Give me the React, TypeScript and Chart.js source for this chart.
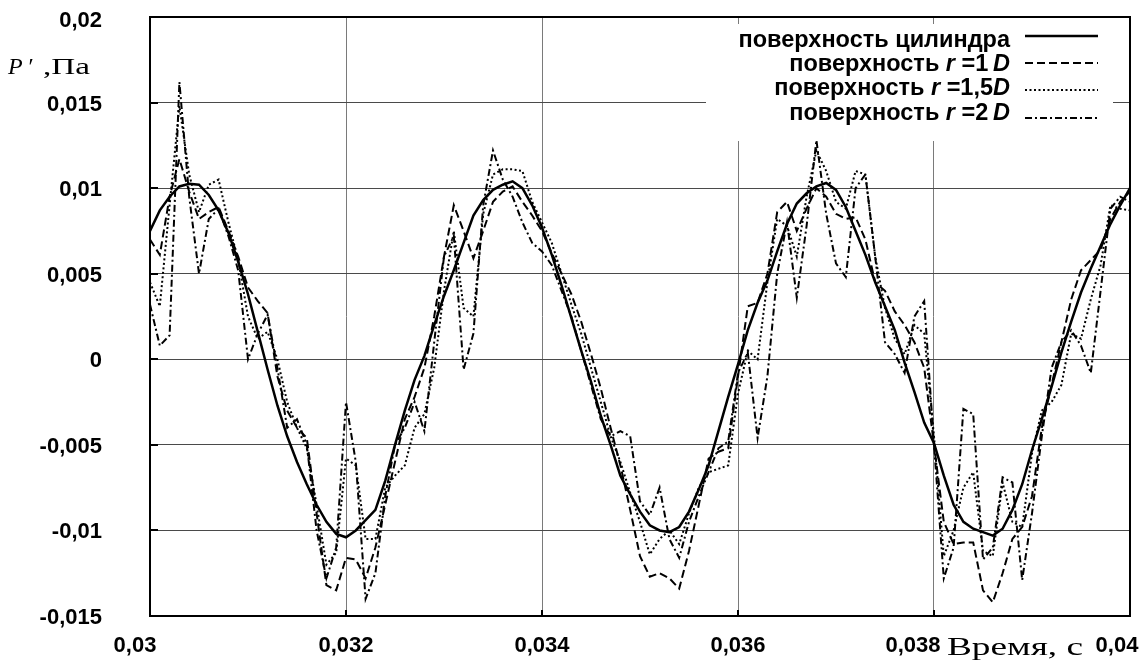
import React, { useEffect, useRef } from "react";
import { Chart, registerables } from "chart.js";

Chart.register(...registerables);

// time axis, s (sample step 0.0001 s)
const TIME: number[] = Array.from({ length: 101 }, (_, i) => +(0.03 + i * 0.0001).toFixed(4));

// поверхность цилиндра
const CYLINDER: number[] = [
  0.0075, 0.0087, 0.0095, 0.0101, 0.01025, 0.0102, 0.0096, 0.0087, 0.0074, 0.0057,
  0.0038, 0.0016, -0.0006, -0.0027, -0.0045, -0.006, -0.0073, -0.0085, -0.0095, -0.0102,
  -0.0104, -0.01, -0.0094, -0.0088, -0.0071, -0.005, -0.003, -0.0012, 0.0002, 0.002,
  0.0037, 0.0052, 0.0068, 0.0084, 0.0093, 0.0099, 0.0102, 0.0104, 0.01, 0.009,
  0.0077, 0.0061, 0.0043, 0.0024, 0.0005, -0.0013, -0.0033, -0.005, -0.0068, -0.0079,
  -0.0089, -0.0097, -0.01, -0.0101, -0.0098, -0.0089, -0.0076, -0.0062, -0.0042, -0.0022,
  -0.0003, 0.0017, 0.0033, 0.0046, 0.0063, 0.0079, 0.0091, 0.0097, 0.0101, 0.0103,
  0.0099, 0.0089, 0.0075, 0.0061, 0.0045, 0.0031, 0.0017, -0.0002, -0.0019, -0.0037,
  -0.0049, -0.0068, -0.0085, -0.0095, -0.0099, -0.0101, -0.0103, -0.0099, -0.0088, -0.0073,
  -0.0053, -0.0035, -0.0016, 0.0004, 0.0022, 0.0039, 0.0053, 0.0066, 0.0079, 0.009,
  0.01,
];

// поверхность r = 1D
const R1D: number[] = [
  0.007, 0.0061, 0.0095, 0.0117, 0.0098, 0.0082, 0.0086, 0.0089, 0.0075, 0.006,
  0.0042, 0.0034, 0.0027, -0.001, -0.003, -0.004, -0.0046, -0.009, -0.0132, -0.0135,
  -0.0116, -0.0117, -0.0128, -0.011, -0.0085, -0.006, -0.0035, -0.0022, -0.0005, 0.0025,
  0.006, 0.009, 0.0075, 0.0059, 0.0075, 0.0092, 0.0098, 0.0101, 0.0092, 0.0084,
  0.0075, 0.0062, 0.005, 0.0038, 0.0022, 0.0003, -0.0017, -0.004, -0.0062, -0.0088,
  -0.0115, -0.0127, -0.0125, -0.0128, -0.0134, -0.0112, -0.0085, -0.0058, -0.0054, -0.0052,
  -0.001, 0.0031, 0.0033, 0.005, 0.0086, 0.0092, 0.0075, 0.0088, 0.01, 0.0095,
  0.0085, 0.0082, 0.0083, 0.007, 0.0045, 0.004, 0.0028, 0.002, 0.001, -0.0005,
  -0.005, -0.0095, -0.0108, -0.0107, -0.0107, -0.0135, -0.0142, -0.0125, -0.0105, -0.0098,
  -0.008, -0.004, -0.0015, 0.001, 0.0035, 0.0052, 0.0058, 0.0064, 0.0082, 0.0092,
  0.0098,
];

// поверхность r = 1,5D
const R15D: number[] = [
  0.0045, 0.0031, 0.009, 0.0148, 0.0108, 0.0086, 0.0102, 0.0105, 0.008, 0.0058,
  0.0025, 0.0012, 0.0016, 0.0, -0.0025, -0.004, -0.0052, -0.0085, -0.012, -0.0113,
  -0.0058, -0.0062, -0.0105, -0.0105, -0.0075, -0.0068, -0.0062, -0.004, -0.0032, -0.0005,
  0.004, 0.0075, 0.003, 0.0025, 0.0085, 0.0108, 0.0111, 0.0111, 0.011, 0.0092,
  0.008, 0.0068, 0.005, 0.0032, 0.0015, -0.0005, -0.0025, -0.0045, -0.006, -0.0078,
  -0.0095, -0.0114, -0.0105, -0.01, -0.0108, -0.009, -0.0075, -0.0066, -0.0064, -0.0062,
  -0.002, 0.0005, 0.0, 0.0045, 0.0082, 0.0078, 0.006, 0.0095, 0.0122, 0.011,
  0.0092, 0.0088, 0.011, 0.0108, 0.006, 0.003, 0.0012, 0.0003, 0.002, 0.0015,
  -0.0045, -0.0115, -0.01, -0.0075, -0.0066, -0.0112, -0.0115, -0.0072, -0.0095, -0.0098,
  -0.0055, -0.003, -0.0025, -0.0015, 0.0015, 0.0012, 0.0035, 0.0055, 0.009, 0.0088,
  0.0087,
];

// поверхность r = 2D
const R2D: number[] = [
  0.0032, 0.0008, 0.0014, 0.0162, 0.0095, 0.005, 0.0082, 0.0088, 0.0072, 0.0052,
  0.0, 0.0015, 0.0026, -0.0005, -0.004, -0.0035, -0.005, -0.01, -0.0128, -0.011,
  -0.0025, -0.006, -0.014, -0.0125, -0.008, -0.005, -0.004, -0.0025, -0.0042, 0.001,
  0.006, 0.0072, -0.0006, 0.0015, 0.009, 0.0122, 0.0105, 0.0095, 0.008, 0.0068,
  0.0063, 0.0055, 0.004, 0.0025, 0.0005, -0.0015, -0.0035, -0.0045, -0.0042, -0.0045,
  -0.0083, -0.0091, -0.0075, -0.0105, -0.0116, -0.0095, -0.008, -0.0066, -0.0052, -0.0048,
  -0.0008, 0.0004, -0.0046, -0.001, 0.005, 0.008, 0.0036, 0.0078, 0.0128, 0.0085,
  0.0056, 0.0048, 0.01, 0.0108, 0.006, 0.001, 0.0003, -0.0008, 0.0025, 0.0034,
  -0.005, -0.0128, -0.011, -0.0029, -0.0032, -0.0117, -0.011, -0.0069, -0.0072, -0.0129,
  -0.009, -0.0045, -0.0005, 0.001, 0.0017, 0.0008, -0.0008, 0.004, 0.0088, 0.0095,
  0.0092,
];

const Y_TICKS = [-0.015, -0.01, -0.005, 0, 0.005, 0.01, 0.015, 0.02];
const Y_TICK_LABELS = ["-0,015", "-0,01", "-0,005", "0", "0,005", "0,01", "0,015", "0,02"];
const X_TICKS = [0.03, 0.032, 0.034, 0.036, 0.038, 0.04];
const X_TICK_LABELS = ["0,03", "0,032", "0,034", "0,036", "0,038", "0,04"];
const X_LABEL_SHIFT = [-15, 0, 0, 0, -21, -13];

const SERIES_NAMES = [
  "поверхность цилиндра",
  "поверхность r =1D",
  "поверхность r =1,5D",
  "поверхность r =2D",
];
// legend text split into upright / italic parts
const LEGEND_PARTS: { t: string; i?: boolean }[][] = [
  [{ t: "поверхность цилиндра" }],
  [{ t: "поверхность " }, { t: "r", i: true }, { t: " =1\u2009" }, { t: "D", i: true }],
  [{ t: "поверхность " }, { t: "r", i: true }, { t: " =1,5" }, { t: "D", i: true }],
  [{ t: "поверхность " }, { t: "r", i: true }, { t: " =2\u2009" }, { t: "D", i: true }],
];

const DASHES: number[][] = [[], [8, 4], [2, 2.5], [7, 3, 2, 3]];
const WIDTHS = [2.5, 2, 2, 2];
const SERIES = [CYLINDER, R1D, R15D, R2D];

const SANS = "'Liberation Sans', Arial, sans-serif";
const SERIF = "'Liberation Serif', 'Times New Roman', serif";

function fillStretched(ctx: CanvasRenderingContext2D, text: string, x: number, y: number, width: number) {
  const w = ctx.measureText(text).width;
  ctx.save();
  ctx.translate(x, y);
  ctx.scale(width / w, 1);
  ctx.fillText(text, 0, 0);
  ctx.restore();
}

const decorPlugin = {
  id: "decor",
  afterDatasetsDraw(chart: any) {
    const { ctx, chartArea: a, scales } = chart;
    const xs = scales.x;
    const ys = scales.y;
    ctx.save();

    // legend box
    ctx.fillStyle = "#ffffff";
    ctx.fillRect(706, 24, 407, 117);
    const rowBase = [46.5, 70.5, 95, 119.5];
    const lineY = [36, 63, 90, 118];
    const LF = "23.5px ";
    LEGEND_PARTS.forEach((parts, r) => {
      let total = 0;
      const widths = parts.map((p) => {
        ctx.font = (p.i ? "italic bold " : "bold ") + LF + SANS;
        const w = ctx.measureText(p.t).width;
        total += w;
        return w;
      });
      let x = 1010 - total;
      ctx.fillStyle = "#000";
      ctx.textAlign = "left";
      ctx.textBaseline = "alphabetic";
      parts.forEach((p, k) => {
        ctx.font = (p.i ? "italic bold " : "bold ") + LF + SANS;
        ctx.fillText(p.t, x, rowBase[r]);
        x += widths[k];
      });
      ctx.beginPath();
      ctx.setLineDash(DASHES[r]);
      ctx.lineWidth = WIDTHS[r];
      ctx.strokeStyle = "#000";
      ctx.moveTo(1025, lineY[r]);
      ctx.lineTo(1098, lineY[r]);
      ctx.stroke();
    });
    ctx.setLineDash([]);

    // frame
    ctx.strokeStyle = "#000";
    ctx.lineWidth = 2;
    ctx.strokeRect(a.left, a.top, a.right - a.left, a.bottom - a.top);

    // inward tick marks
    Y_TICKS.forEach((v) => {
      const py = Math.round(ys.getPixelForValue(v));
      ctx.beginPath();
      ctx.moveTo(a.left, py);
      ctx.lineTo(a.left + 8, py);
      ctx.stroke();
    });
    X_TICKS.forEach((v) => {
      const px = Math.round(xs.getPixelForValue(v));
      ctx.beginPath();
      ctx.moveTo(px, a.bottom);
      ctx.lineTo(px, a.bottom - 6);
      ctx.stroke();
    });

    // tick labels
    ctx.fillStyle = "#000";
    ctx.font = "bold 22px " + SANS;
    ctx.textBaseline = "alphabetic";
    ctx.textAlign = "right";
    Y_TICKS.forEach((v, i) => {
      const py = ys.getPixelForValue(v);
      ctx.fillText(Y_TICK_LABELS[i], a.left - 48, Math.max(py + 8, 27));
    });
    ctx.textAlign = "center";
    X_TICKS.forEach((v, i) => {
      const px = xs.getPixelForValue(v) + X_LABEL_SHIFT[i];
      ctx.fillText(X_TICK_LABELS[i], px, a.bottom + 36);
    });

    // axis titles
    ctx.textAlign = "left";
    ctx.font = "italic 24px " + SERIF;
    ctx.fillText("P", 8, 74);
    ctx.fillText("\u2032", 27, 74);
    ctx.font = "24px " + SERIF;
    fillStretched(ctx, ",Па", 43, 74, 47);
    ctx.font = "26px " + SERIF;
    fillStretched(ctx, "Время, с", 947, 655, 136);

    ctx.restore();
  },
};

export default function App() {
  const canvasRef = useRef<HTMLCanvasElement | null>(null);

  useEffect(() => {
    const canvas = canvasRef.current;
    if (!canvas) return;
    const chart = new Chart(canvas, {
      type: "line",
      data: {
        datasets: SERIES.map((s, k) => ({
          label: SERIES_NAMES[k],
          data: TIME.map((t, i) => ({ x: t, y: s[i] })),
          borderColor: "#000",
          backgroundColor: "#000",
          borderWidth: WIDTHS[k],
          borderDash: DASHES[k],
          pointRadius: 0,
          tension: 0,
          fill: false,
        })),
      },
      options: {
        responsive: false,
        animation: false,
        devicePixelRatio: 1,
        layout: { padding: { left: 150, top: 17, right: 12, bottom: 53 } },
        plugins: { legend: { display: false }, tooltip: { enabled: false } },
        scales: {
          x: {
            type: "linear",
            min: 0.03,
            max: 0.04,
            ticks: { display: false, stepSize: 0.002 },
            grid: { color: "#7a7a7a", lineWidth: 1, drawTicks: false },
            border: { display: false },
          },
          y: {
            type: "linear",
            min: -0.015,
            max: 0.02,
            ticks: { display: false, stepSize: 0.005 },
            grid: { color: "#4a4a4a", lineWidth: 1, drawTicks: false },
            border: { display: false },
          },
        },
      },
      plugins: [decorPlugin],
    });
    return () => chart.destroy();
  }, []);

  return (
    <div style={{ position: "absolute", left: 0, top: 0, width: 1142, height: 669, background: "#fff" }}>
      <canvas ref={canvasRef} width={1142} height={669} style={{ display: "block" }} />
    </div>
  );
}
